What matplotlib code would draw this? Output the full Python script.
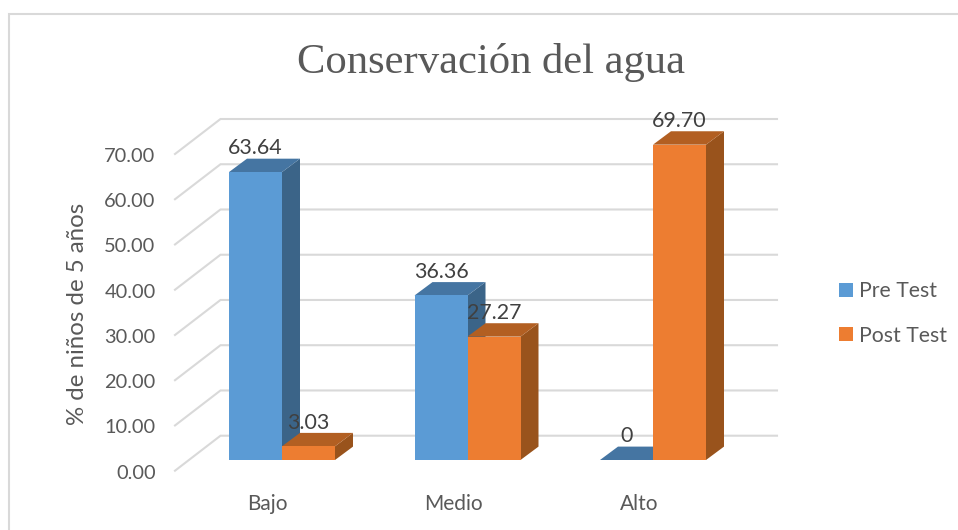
import matplotlib
matplotlib.use("Agg")
import numpy as np
import matplotlib.pyplot as plt
from matplotlib.lines import Line2D
from matplotlib.patches import Patch, Polygon
from matplotlib.transforms import ScaledTranslation

categorias = ["Bajo", "Medio", "Alto"]
pre_test = [63.64, 36.36, 0]
post_test = [3.03, 27.27, 69.70]
pre_labels = ["63.64", "36.36", "0"]
post_labels = ["3.03", "27.27", "69.70"]
y_ticks = [0, 10, 20, 30, 40, 50, 60, 70]

W, H = 958, 530
plt.rcParams['font.family'] = ['Lato', 'DejaVu Sans']

fig = plt.figure(figsize=(W / 100, H / 100), dpi=100)
fig.patch.set_facecolor("white")

# axes = front plane of the fake 3d box
ax = fig.add_axes([175 / W, 1 - 470.7 / H, (731.5 - 175) / W, (470.7 - 154) / H])
ax.set_xlim(-0.5, 2.5)
ax.set_ylim(0, 70)
ax.patch.set_visible(False)
for s in ax.spines.values():
    s.set_visible(False)

px_x = 3 / (731.5 - 175)       # data per pixel
px_y = 70 / (470.7 - 154)

wall_dx, wall_dy = 45.5 * px_x, 35 * px_y
bar_x0, bar_y0 = 14.25 * px_x, 10.7 * px_y
bar_dx, bar_dy = 18 * px_x, 13.4 * px_y
bar_w = 53 * px_x

GRID = "#D9D9D9"
for v in y_ticks:
    ax.plot([-0.5, -0.5 + wall_dx, 2.5 + wall_dx], [v, v + wall_dy, v + wall_dy],
            color=GRID, lw=1.5, clip_on=False, zorder=1, solid_joinstyle="miter")


def caja(xs, vals, front, top, side, z):
    ax.bar(xs, vals, bar_w, bottom=bar_y0, color=front, align="edge", zorder=z + 0.2, clip_on=False)
    for x, v in zip(xs, vals):
        yt = bar_y0 + v
        ax.add_patch(Polygon([(x + bar_w, bar_y0), (x + bar_w + bar_dx, bar_y0 + bar_dy),
                              (x + bar_w + bar_dx, yt + bar_dy), (x + bar_w, yt)],
                             fc=side, ec="none", zorder=z, clip_on=False))
        ax.add_patch(Polygon([(x, yt), (x + bar_dx, yt + bar_dy),
                              (x + bar_w + bar_dx, yt + bar_dy), (x + bar_w, yt)],
                             fc=top, ec="none", zorder=z + 0.1, clip_on=False))


pos = np.arange(len(categorias))
x_pre = pos + bar_x0 - bar_w
x_post = pos + bar_x0
caja(x_pre, pre_test, "#5B9BD5", "#4575A2", "#3B6488", 2)
caja(x_post, post_test, "#ED7D31", "#B25F22", "#99531C", 3)

for xs, vals, labs in [(x_pre, pre_test, pre_labels), (x_post, post_test, post_labels)]:
    for x, v, t in zip(xs, vals, labs):
        ax.annotate(t, (x + bar_w / 2, bar_y0 + v), xytext=(0, 17), textcoords="offset points",
                    ha="center", va="center", fontsize=15.4, color="#404040", zorder=10,
                    annotation_clip=False)

ax.set_yticks(y_ticks)
ax.set_yticklabels(["%.2f" % v for v in y_ticks], fontsize=14.4, color="#595959")
ax.set_xticks(pos)
ax.set_xticklabels(categorias, fontsize=15, color="#595959")
ax.tick_params(axis="both", length=0)
ax.tick_params(axis="y", pad=14)
ax.tick_params(axis="x", pad=17)
# y labels sit a pixel low in the original
nudge = ScaledTranslation(0, -1 / 100, fig.dpi_scale_trans)
for lab in ax.get_yticklabels():
    lab.set_transform(lab.get_transform() + nudge)

fig.text(78 / W, 1 - 314 / H, "% de niños de 5 años", rotation=90, ha="center", va="center",
         fontsize=17.3, color="#595959")
fig.text(491 / W, 1 - 62 / H, "Conservación del agua", ha="center", va="center",
         fontsize=30.7, color="#595959", family="Liberation Serif")

fig.legend(handles=[Patch(fc="#5B9BD5", label="Pre Test"), Patch(fc="#ED7D31", label="Post Test")],
           loc="center left", bbox_to_anchor=(839 / W, 1 - 313.5 / H), frameon=False, fontsize=15.3,
           labelcolor="#595959", handlelength=0.66, handleheight=0.66, handletextpad=0.28,
           labelspacing=1.13, borderpad=0, borderaxespad=0)

# only top and left of the chart frame are in the picture
fig.add_artist(Line2D([8.5 / W, 8.5 / W, 1], [0, 1 - 13.5 / H, 1 - 13.5 / H], transform=fig.transFigure,
                      color="#D9D9D9", lw=1.5, solid_joinstyle="miter"))

fig.savefig("out.png", dpi=100)
